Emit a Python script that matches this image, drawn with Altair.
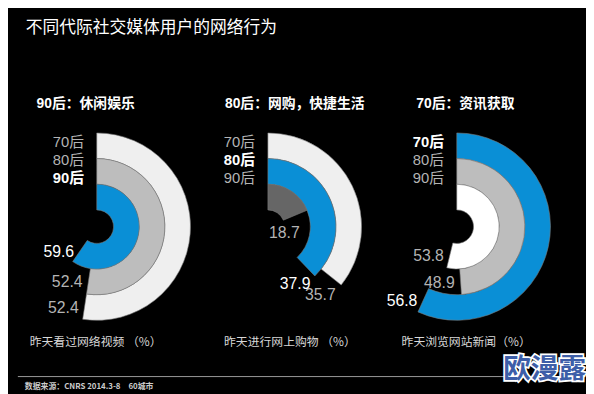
import math
import altair as alt
import pandas as pd

# ---------------- data ----------------
title_text = "不同代际社交媒体用户的网络行为"
generations = ["70后", "80后", "90后"]
headings = ["90后：休闲娱乐", "80后：网购，快捷生活", "70后：资讯获取"]
focus_gen = ["90后", "80后", "70后"]
captions = ["昨天看过网络视频 （%）", "昨天进行网上购物 （%）", "昨天浏览网站新闻（%）"]
video = [52.4, 52.4, 59.6]      # 70后, 80后, 90后
shopping = [35.7, 37.9, 18.7]
news = [56.8, 48.9, 53.8]
source_text = "数据来源：CNRS 2014.3-8　60城市"
watermark_text = "欧漫露"

# ---------------- style ----------------
BLUE = "#0a8fd6"
LIGHT = "#efefef"
MID = "#bdbdbd"
DARK = "#666666"
WHITE = "#ffffff"
panel_fills = [[LIGHT, MID, BLUE], [LIGHT, BLUE, DARK], [BLUE, MID, WHITE]]
LABEL_GRAY = "#b4b4b4"
NUM_FONT = "Liberation Sans, Noto Sans CJK SC"
CJK_FONT = "Noto Sans CJK SC"
CY = 219

rows = []
for p, vals in enumerate([video, shopping, news]):
    for g, gen in enumerate(generations):
        ring = 2 - g
        is_focus = gen == focus_gen[p]
        rows.append({
            "idx": p, "gen": gen, "value": vals[g], "start": 0,
            "r_in": ring, "r_out": ring + 1, "r_mid": ring + 0.5,
            "focus": is_focus, "fill": panel_fills[p][g],
            "label_color": "#ffffff" if is_focus else LABEL_GRAY,
        })
df = pd.DataFrame(rows)

x_scale = alt.Scale(domain=[0, 1, 2], range=[90, 263.5, 455], zero=False, nice=False)
theta_scale = alt.Scale(domain=[0, 100], range=[0, 2 * math.pi])
radius_scale = alt.Scale(type="linear", domain=[0, 3], range=[17, 95], zero=False)
gen_scale = alt.Scale(type="point", domain=generations, range=[133.5, 169.5], padding=0)

X = alt.X("idx:Q", scale=x_scale, axis=None, stack=False)
base = alt.Chart(df)

arcs = base.mark_arc(stroke="#7a7a7a", strokeWidth=0.6).encode(
    x=X,
    y=alt.value(CY),
    theta=alt.Theta("start:Q", scale=theta_scale, stack=False),
    theta2="value:Q",
    radius=alt.Radius("r_out:Q", scale=radius_scale, stack=False),
    radius2="r_in:Q",
    color=alt.Color("fill:N", scale=None),
)

label_enc = dict(
    x=X,
    y=alt.value(CY),
    theta=alt.Theta("value:Q", scale=theta_scale, stack=False),
    radius=alt.Radius("r_mid:Q", scale=radius_scale, stack=False),
    text=alt.Text("value:Q", format=".1f"),
    color=alt.Color("label_color:N", scale=None),
)
left_labels = base.transform_filter("datum.value >= 45").mark_text(
    align="right", baseline="middle", dx=-6, dy=1, fontSize=16, font=NUM_FONT
).encode(**label_enc)
below_labels = base.transform_filter("datum.value < 45").mark_text(
    align="center", baseline="middle", dx=-11, dy=18, fontSize=16, font=NUM_FONT
).encode(**label_enc)

ring_enc = dict(
    x=X,
    y=alt.Y("gen:N", scale=gen_scale, axis=None),
    text="gen:N",
)
ring_plain = base.transform_filter("!datum.focus").mark_text(
    align="right", baseline="middle", dx=-13, fontSize=15, font=NUM_FONT, color=LABEL_GRAY
).encode(**ring_enc)
ring_bold = base.transform_filter("datum.focus").mark_text(
    align="right", baseline="middle", dx=-13, fontSize=15, font=NUM_FONT,
    fontWeight="bold", color="#ffffff"
).encode(**ring_enc)


def note(text, x, y, **style):
    return alt.Chart(pd.DataFrame({"t": [text]})).mark_text(**style).encode(
        x=alt.value(x), y=alt.value(y), text="t:N"
    )


layers = [arcs, left_labels, below_labels, ring_plain, ring_bold]
layers.append(note(title_text, 18, 18, align="left", baseline="middle", fontSize=17,
                   font=CJK_FONT, color="#ffffff"))
for txt, hx in zip(headings, [29, 220, 414]):
    layers.append(note(txt, hx, 95, align="left", baseline="middle", fontSize=14,
                       font=NUM_FONT, fontWeight="bold", color="#ffffff"))
for txt, cx in zip(captions, [22, 219, 399]):
    layers.append(note(txt, cx, 336, align="left", baseline="middle", fontSize=12,
                       font=CJK_FONT, color="#d8d8d8"))

rule = alt.Chart(pd.DataFrame({"a": [0]})).mark_rule(color="#9a9a9a", strokeWidth=1).encode(
    x=alt.value(10), x2=alt.value(506), y=alt.value(371)
)
layers.append(rule)
layers.append(note(source_text, 17, 382, align="left", baseline="middle", fontSize=8,
                   font=CJK_FONT, fontWeight="bold", color="#cccccc"))
layers.append(note(watermark_text, 544, 364, align="center", baseline="middle", fontSize=28,
                   font=CJK_FONT, fontWeight="bold", color="#ffffff",
                   stroke="#ffffff", strokeWidth=3.5))
layers.append(note(watermark_text, 544, 364, align="center", baseline="middle", fontSize=28,
                   font=CJK_FONT, fontWeight="bold", color="#3d5ea8"))

chart = alt.layer(*layers).properties(
    width=586, height=386, autosize="none", padding=0, background="#000000"
).configure_view(strokeWidth=0)

chart.save("out.html", embed_options={"renderer": "svg", "actions": False})
